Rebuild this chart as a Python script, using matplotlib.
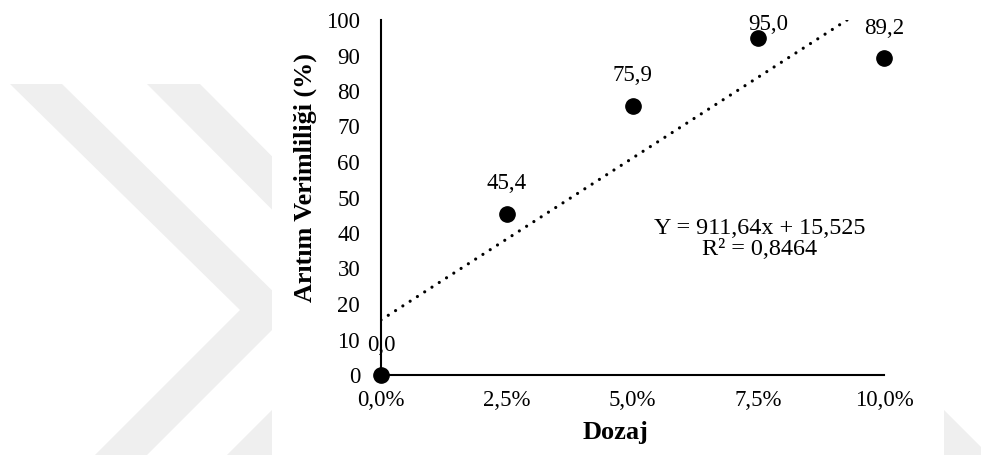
import numpy as np
import matplotlib
matplotlib.use("Agg")
import matplotlib.pyplot as plt
from matplotlib.patches import Polygon, Rectangle

# dosage (fraction) and removal efficiency (%)
dozaj = [0.0, 0.025, 0.05, 0.075, 0.10]
verim = [0.0, 45.4, 75.9, 95.0, 89.2]
x_ticks = [0.0, 0.025, 0.05, 0.075, 0.10]
y_ticks = [0, 10, 20, 30, 40, 50, 60, 70, 80, 90, 100]
equation_text = "Y = 911,64x + 15,525\nR² = 0,8464"

plt.rcParams["font.family"] = ["Liberation Serif", "DejaVu Serif"]

W, H = 981, 458
fig = plt.figure(figsize=(W / 100, H / 100), dpi=100)


def px(pts):
    return [(x / W, 1 - y / H) for x, y in pts]


# faint background watermark (chevrons) behind the chart box
wm = "#efefef"
for shape in [
    [(10, 84), (62, 84), (292, 310), (147, 455), (95, 455), (240, 310)],
    [(147, 84), (200, 84), (425, 310), (280, 455), (227, 455), (372, 310)],
    [(944, 410), (981, 447), (981, 455), (944, 455)],
]:
    fig.add_artist(Polygon(px(shape), closed=True, transform=fig.transFigure,
                           facecolor=wm, edgecolor="none", zorder=-2))
fig.add_artist(Rectangle((272 / W, 1 - 455 / H), (944 - 272) / W, 455 / H,
                         transform=fig.transFigure, facecolor="white",
                         edgecolor="none", zorder=-1))

ax = fig.add_axes([381 / W, 83 / H, 503 / W, 355 / H])
ax.patch.set_alpha(0)

ax.set_xlim(0, 0.10)
ax.set_ylim(0, 100)

for side in ["top", "right"]:
    ax.spines[side].set_visible(False)
for side in ["left", "bottom"]:
    ax.spines[side].set_linewidth(1.5)

ax.set_xticks(x_ticks)
ax.set_xticklabels([f"{v * 100:.1f}%".replace(".", ",") for v in x_ticks])
ax.set_yticks(y_ticks)
ax.set_yticklabels([str(v) for v in y_ticks])
ax.tick_params(axis="both", length=0, labelsize=16.5)
ax.tick_params(axis="y", pad=15)
ax.tick_params(axis="x", pad=11)

# linear trendline (dotted)
slope, intercept = np.polyfit(dozaj, verim, 1)
xs = np.array([0.0, 0.10])
ax.plot(xs, slope * xs + intercept, color="black", linewidth=2.3,
        linestyle=(0, (0.01, 2.7)), dash_capstyle="round", zorder=2)

ax.plot(dozaj, verim, "o", color="black", markersize=11, clip_on=False, zorder=3)

label_offsets = [(0, 21.5), (0, 21.5), (0, 21.5), (7, 9.5), (0, 21.5)]
for xv, yv, (dx, dy) in zip(dozaj, verim, label_offsets):
    ax.annotate(f"{yv:.1f}".replace(".", ","), xy=(xv, yv), xytext=(dx, dy),
                textcoords="offset points", ha="center", va="center",
                fontsize=16.5, annotation_clip=False, zorder=4)

ax.text(0.0753, 38.3, equation_text, ha="center", va="center",
        fontsize=17.4, linespacing=0.97)

ax.set_xlabel("Dozaj", fontsize=19, fontweight="bold")
ax.xaxis.set_label_coords(0.467, -0.163)
ax.xaxis.label.set_va("center")
ax.set_ylabel("Arıtım Verimliliği (%)", fontsize=18.8, fontweight="bold")
ax.yaxis.set_label_coords(-0.151, 0.556)
ax.yaxis.label.set_va("center")

fig.savefig("out.png", dpi=100)
